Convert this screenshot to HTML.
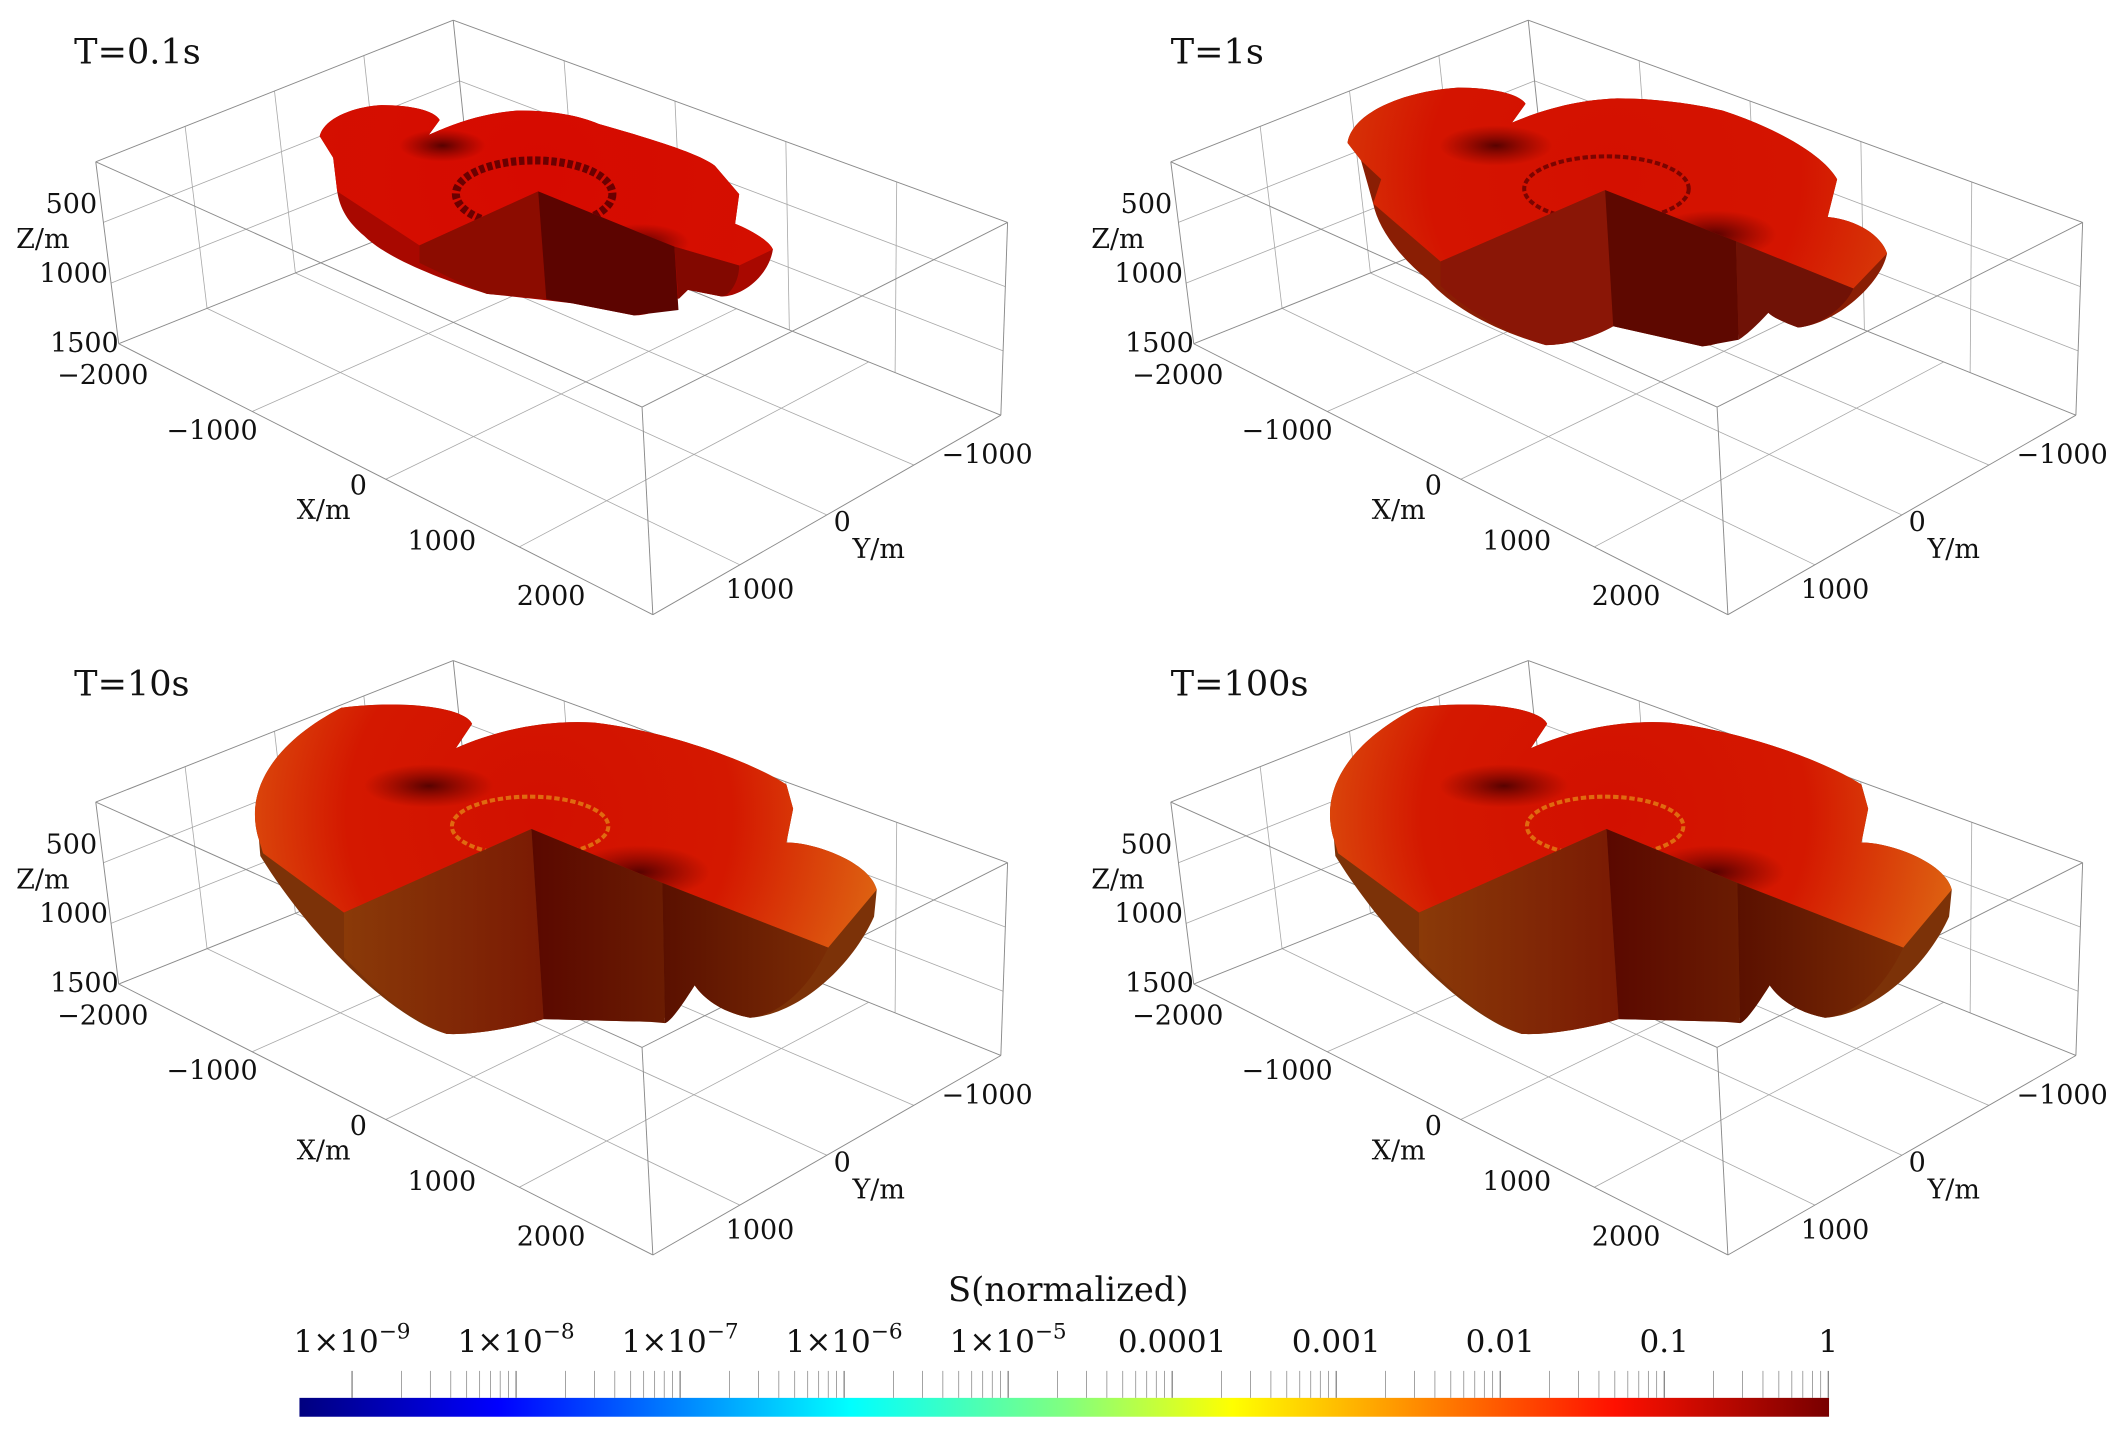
<!DOCTYPE html>
<html><head><meta charset="utf-8"><style>
html,body{margin:0;padding:0;background:#fff;}
svg{display:block;}
text{font-family:"DejaVu Serif","Liberation Serif",serif;fill:#111;}
</style></head><body>
<svg id="fig" width="2115" height="1441" viewBox="0 0 1568 1069" preserveAspectRatio="none" xmlns="http://www.w3.org/2000/svg">
<defs>
<linearGradient id="jet" x1="0" x2="1" y1="0" y2="0">
<stop offset="0" stop-color="#00007f"/><stop offset="0.13" stop-color="#0000ff"/><stop offset="0.36" stop-color="#00ffff"/><stop offset="0.5" stop-color="#80ff80"/><stop offset="0.61" stop-color="#ffff00"/><stop offset="0.86" stop-color="#ff1000"/><stop offset="1" stop-color="#780000"/>
</linearGradient>
<radialGradient id="topL" cx="400" cy="130" r="260" gradientUnits="userSpaceOnUse"><stop offset="0" stop-color="#d21000"/><stop offset="0.55" stop-color="#d41800"/><stop offset="1" stop-color="#de6412"/></radialGradient>
<radialGradient id="topM" cx="400" cy="130" r="230" gradientUnits="userSpaceOnUse"><stop offset="0" stop-color="#d41000"/><stop offset="0.6" stop-color="#d41400"/><stop offset="1" stop-color="#d8400a"/></radialGradient>
<radialGradient id="topS" cx="400" cy="130" r="200" gradientUnits="userSpaceOnUse"><stop offset="0" stop-color="#d60a00"/><stop offset="1" stop-color="#d41000"/></radialGradient>
<radialGradient id="dark"><stop offset="0" stop-color="#4a0000" stop-opacity="0.9"/><stop offset="1" stop-color="#6a0000" stop-opacity="0"/></radialGradient>
<linearGradient id="f1L" x1="0" x2="1"><stop offset="0" stop-color="#8a3a08"/><stop offset="1" stop-color="#7a1a04"/></linearGradient>
<linearGradient id="f2L" x1="0" x2="1"><stop offset="0" stop-color="#5a0800"/><stop offset="1" stop-color="#6a1c02"/></linearGradient>
<linearGradient id="f3L" x1="0" x2="1"><stop offset="0" stop-color="#5a1000"/><stop offset="1" stop-color="#7a2c05"/></linearGradient>
</defs>
<g id="panels"></g>
<g id="colorbar"></g>
</svg>
<script>
const NS="http://www.w3.org/2000/svg";
// ---- data ----
const panelTitles=["T=0.1s","T=1s","T=10s","T=100s"];
const panelShapes=["small","medium","large","large"];
const zTicks=[500,1000,1500];
const xTicks=[-2000,-1000,0,1000,2000];
const yTicks=[1000,0,-1000];
const cbExponents=[-9,-8,-7,-6,-5,-4,-3,-2,-1,0];
const cbLabels=["1×10","1×10","1×10","1×10","1×10","0.0001","0.001","0.01","0.1","1"];
const cbSup=["-9","-8","-7","-6","-5","","","","",""];

const offsets=[[0,0],[797,0],[0,475],[797,475]];
const titlePos=[[55,47],[868,47],[55,516],[868,516]];

const SH={
large:{
sil:"M192,148 C180,110 205,75 253,50 C300,44 345,50 350,62 L338,80 C370,66 405,59 440,61 C500,68 560,92 583,107 L588,125 L583,150 C605,150 645,165 650,185 L648,205 C630,245 590,278 556,280 C535,276 522,266 515,256 C505,272 495,283 481,283 L403,281 C380,288 350,293 331,292 C290,280 230,220 193,160 Z",
top:"M192,148 C180,110 205,75 253,50 C300,44 345,50 350,62 L338,80 C370,66 405,59 440,61 C500,68 560,92 583,107 L588,125 L583,150 C605,150 645,165 650,185 L614,228 L491,180 L394,140 L255,202 L195,158 Z",
f1:"M255,202 L394,140 L403,281 C380,288 350,293 331,292 C300,280 275,255 255,235 Z",
f2:"M394,140 L491,180 L493,284 L481,283 L403,281 Z",
f3:"M491,180 L614,228 C600,258 578,278 556,280 C535,276 522,266 515,256 C505,272 497,283 493,284 Z",
side:"#7c3208",tg:"url(#topL)",c1:"url(#f1L)",c2:"url(#f2L)",c3:"url(#f3L)",
ring:[393,138,58,22],ringCol:"#e06a10",darks:[[318,108,48,16],[474,172,52,20]]},
medium:{
sil:"M202,106 C205,85 240,68 284,65 C310,65 330,70 334,77 L324,91 C350,80 375,74 402,73 C430,73 460,77 480,82 C520,95 555,115 565,133 L558,161 C580,163 598,175 602,188 C598,210 565,240 536,243 C528,240 518,236 514,232 C500,245 480,256 465,257 L399,242 C385,250 365,256 349,256 C310,245 280,228 262,208 C240,190 225,170 221,151 L212,119 Z",
top:"M202,106 C205,85 240,68 284,65 C310,65 330,70 334,77 L324,91 C350,80 375,74 402,73 C430,73 460,77 480,82 C520,95 555,115 565,133 L558,161 C580,163 598,175 602,188 L577,214 L490,179 L393,141 L271,194 L221,151 L227,133 L212,119 Z",
f1:"M271,194 L393,141 L399,242 C385,250 365,256 349,256 C320,248 290,230 271,212 Z",
f2:"M393,141 L490,179 L492,252 L465,257 L399,242 Z",
f3:"M490,179 L577,214 C570,230 550,242 536,243 C528,240 518,236 514,232 C505,242 497,249 492,252 Z",
side:"#8a1e04",tg:"url(#topM)",c1:"#8a1606",c2:"#5e0800",c3:"#701206",
ring:[394,140,61,24],ringCol:"#7a0400",darks:[[312,108,42,15],[474,174,46,18]]},
small:{
sil:"M237,101 C240,88 262,79 283,78 C305,78 322,82 326,89 L318,100 C340,90 360,84 384,82 C410,82 430,86 444,92 C490,105 520,115 530,123 L548,144 L545,166 C555,170 570,178 573,185 C570,205 550,220 535,220 L510,215 C500,225 485,234 470,234 L424,225 C400,222 380,220 361,218 C320,205 285,190 270,175 C258,165 252,155 250,142 L247,117 Z",
top:"M237,101 C240,88 262,79 283,78 C305,78 322,82 326,89 L318,100 C340,90 360,84 384,82 C410,82 430,86 444,92 C490,105 520,115 530,123 L548,144 L545,166 C555,170 570,178 573,185 L548,197 L500,183 L399,142 L311,182 L250,142 L247,117 Z",
f1:"M311,182 L399,142 L405,222 C385,220 372,219 361,218 C340,210 322,200 311,195 Z",
f2:"M399,142 L500,183 L503,230 L470,234 L424,225 L405,222 Z",
f3:"M500,183 L548,197 C548,210 540,220 535,220 L510,215 L503,222 Z",
side:"#a80800",tg:"url(#topS)",c1:"#8c0c00",c2:"#5c0400",c3:"#820800",
ring:[396,144,58,25],ringCol:"#6a0000",darks:[[328,108,32,12],[475,180,36,14]]}
};

const box={A:[336,15],B:[71,120],C:[747,165],D:[476,302],A2:[350,150],B2:[88,255],C2:[742,308],D2:[484,456]};

function mk(tag,attrs,parent){const e=document.createElementNS(NS,tag);for(const k in attrs)e.setAttribute(k,attrs[k]);parent.appendChild(e);return e;}
function lerp(p,q,t){return [p[0]+(q[0]-p[0])*t,p[1]+(q[1]-p[1])*t];}
function ln(g,p,q,col,w){return mk("line",{x1:p[0],y1:p[1],x2:q[0],y2:q[1],stroke:col,"stroke-width":w},g);}
function faceGrid(g,P,Q,R,S,n1,n2){
  for(let i=1;i<n1;i++){ln(g,lerp(P,Q,i/n1),lerp(S,R,i/n1),"#a8a8a8",0.6);}
  for(let j=1;j<n2;j++){ln(g,lerp(P,S,j/n2),lerp(Q,R,j/n2),"#a8a8a8",0.6);}
}
const zX=v=>72+(v-500)*0.016, zY=v=>158+(v-500)*0.103;
const xX=v=>272+v*0.081, xY=v=>367+v*0.041;
const yXs=v=>618-v*0.08, yYs=v=>394+v*0.05;

const panels=document.getElementById("panels");
panelTitles.forEach((title,i)=>{
  const [ox,oy]=offsets[i];
  const g=mk("g",{transform:`translate(${ox},${oy})`},panels);
  
  
  const grid=mk("g",{},g);
  
  
  const b=box;
  faceGrid(grid,b.B,b.A,b.A2,b.B2,4,3);
  faceGrid(grid,b.A,b.C,b.C2,b.A2,5,3);
  faceGrid(grid,b.B2,b.A2,b.C2,b.D2,4,4);
  [[b.A,b.B],[b.A,b.C],[b.B,b.D],[b.C,b.D],[b.B,b.B2],[b.C,b.C2],[b.D,b.D2],[b.B2,b.D2],[b.D2,b.C2],[b.A,b.A2],[b.A2,b.B2],[b.A2,b.C2]].forEach(e=>ln(grid,e[0],e[1],"#8a8a8a",0.7));
  const s=SH[panelShapes[i]];
  const sg=mk("g",{},g);
  
  
  mk("path",{d:s.sil,fill:s.side},sg);
  const cid="clip"+i;
  const cp=mk("clipPath",{id:cid},sg); mk("path",{d:s.top},cp);
  mk("path",{d:s.top,fill:s.tg},sg);
  s.darks.forEach(d=>mk("ellipse",{cx:d[0],cy:d[1],rx:d[2],ry:d[3],fill:"url(#dark)","clip-path":`url(#${cid})`},sg));
  const r=s.ring;
  mk("ellipse",{cx:r[0],cy:r[1],rx:r[2],ry:r[3],fill:"none",stroke:s.ringCol,"stroke-width":panelShapes[i]=="small"?6:3,"stroke-dasharray":"4 2","clip-path":`url(#${cid})`},sg);
  mk("path",{d:s.f1,fill:s.c1},sg);
  mk("path",{d:s.f2,fill:s.c2},sg);
  mk("path",{d:s.f3,fill:s.c3},sg);
  const t=mk("text",{x:titlePos[i][0]-ox,y:titlePos[i][1]-oy,"font-size":26},g); t.textContent=title;
  
  
  zTicks.forEach(v=>{const e=mk("text",{x:zX(v),y:zY(v),"font-size":20,"text-anchor":"end"},g);e.textContent=v;
    
    });
  xTicks.forEach(v=>{const e=mk("text",{x:xX(v),y:xY(v),"font-size":20,"text-anchor":"end"},g);e.textContent=(v<0?"\u2212"+(-v):v);
    
    });
  yTicks.forEach(v=>{const e=mk("text",{x:yXs(v),y:yYs(v),"font-size":20},g);e.textContent=(v<0?"\u2212"+(-v):v);
    
    });
  const zt=mk("text",{x:12,y:184,"font-size":20},g);zt.textContent="Z/m";
  
  
  const xt=mk("text",{x:220,y:385,"font-size":20},g);xt.textContent="X/m";
  
  
  const yt=mk("text",{x:632,y:414,"font-size":20},g);yt.textContent="Y/m";
  
  
});

const cb=document.getElementById("colorbar");
const cbX0=222,cbX1=1356,decX0=261,decW=121.6;
const cbPos=e=>decX0+(e-cbExponents[0])*decW;
const bar=mk("rect",{x:cbX0,y:1037,width:cbX1-cbX0,height:14,fill:"url(#jet)"},cb);


const ct=mk("text",{x:792,y:965,"font-size":25,"text-anchor":"middle"},cb);ct.textContent="S(normalized)";


cbExponents.forEach((e,i)=>{
  const x=cbPos(e);
  ln(cb,[x,1017],[x,1037],"#555",0.7);
  if(i<cbExponents.length-1){for(let m=2;m<10;m++){const xm=x+Math.log10(m)*decW;ln(cb,[xm,1017],[xm,1037],"#777",0.5);}}
  const tx=mk("text",{x:x,y:1003,"font-size":23,"text-anchor":"middle"},cb);
  
  
  tx.appendChild(document.createTextNode(cbLabels[i]));
  if(cbSup[i]){const sp=mk("tspan",{dy:-10,"font-size":16},tx);sp.textContent=cbSup[i].replace("-","\u2212");}
});
</script>
</body></html>
